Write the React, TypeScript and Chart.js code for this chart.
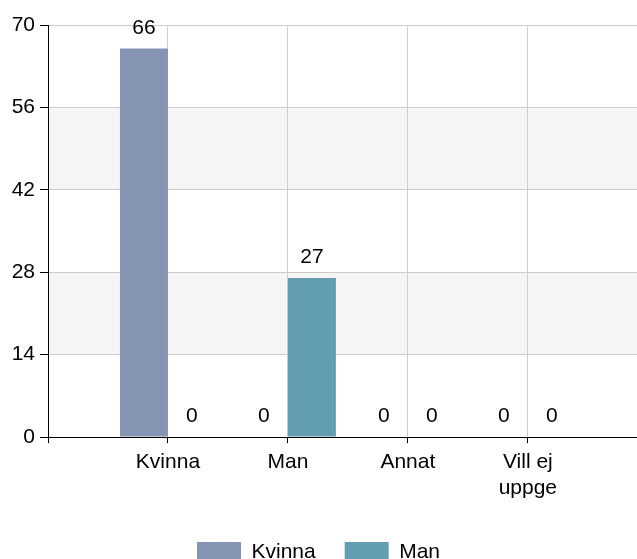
import React, { useEffect, useRef } from 'react';
import { Chart, registerables } from 'chart.js';

Chart.register(...registerables);

const CATEGORIES: (string | string[])[] = ['Kvinna', 'Man', 'Annat', ['Vill ej', 'uppge']];
const SERIES_NAMES = ['Kvinna', 'Man'];
const KVINNA_VALUES = [66, 0, 0, 0];
const MAN_VALUES = [0, 27, 0, 0];
const Y_MIN = 0;
const Y_MAX = 70;
const Y_STEP = 14;
const BANDS: [number, number][] = [[14, 28], [42, 56]];
const COLORS = ['#8594B3', '#629DB2'];

const FONT = { family: '"Liberation Sans", Arial, sans-serif', size: 21 };

const bandPlugin = {
  id: 'bands',
  beforeDraw(chart: any) {
    const { ctx, chartArea, scales } = chart;
    ctx.save();
    ctx.fillStyle = '#f5f5f5';
    BANDS.forEach(([a, b]) => {
      const y1 = scales.y.getPixelForValue(b);
      const y2 = scales.y.getPixelForValue(a);
      ctx.fillRect(chartArea.left, y1, chartArea.right - chartArea.left, y2 - y1);
    });
    ctx.restore();
  },
};

const valueLabelPlugin = {
  id: 'valueLabels',
  afterDatasetsDraw(chart: any) {
    const { ctx } = chart;
    ctx.save();
    ctx.font = `${FONT.size}px ${FONT.family}`;
    ctx.fillStyle = '#000';
    ctx.textAlign = 'center';
    ctx.textBaseline = 'alphabetic';
    chart.data.datasets.forEach((ds: any, di: number) => {
      const meta = chart.getDatasetMeta(di);
      meta.data.forEach((el: any, i: number) => {
        const v = ds.data[i].y;
        ctx.fillText(String(v), el.x, el.y - 15);
      });
    });
    ctx.restore();
  },
};

export default function App() {
  const ref = useRef<HTMLCanvasElement>(null);

  useEffect(() => {
    if (!ref.current) return;
    const chart = new Chart(ref.current, {
      type: 'bar',
      data: {
        datasets: [
          {
            label: SERIES_NAMES[0],
            data: KVINNA_VALUES.map((v, i) => ({ x: i + 1, y: v })),
            backgroundColor: COLORS[0],
            borderWidth: 0,
            categoryPercentage: 0.8,
            barPercentage: 1,
          },
          {
            label: SERIES_NAMES[1],
            data: MAN_VALUES.map((v, i) => ({ x: i + 1, y: v })),
            backgroundColor: COLORS[1],
            borderWidth: 0,
            categoryPercentage: 0.8,
            barPercentage: 1,
          },
        ],
      },
      options: {
        responsive: false,
        maintainAspectRatio: false,
        animation: false,
        layout: { padding: { top: 25, left: 0, right: 0, bottom: 0 } },
        scales: {
          x: {
            type: 'linear',
            offset: false,
            min: 0,
            max: 4.91,
            afterBuildTicks: (s: any) => {
              s.ticks = [0, 1, 2, 3, 4].map((v) => ({ value: v }));
            },
            ticks: {
              font: FONT,
              color: '#000',
              padding: 7,
              maxRotation: 0,
              autoSkip: false,
              callback: (v: any) => (v >= 1 ? CATEGORIES[v - 1] : ''),
            },
            grid: { offset: false, color: '#cfcfcf', tickColor: '#000', tickLength: 6 },
            border: { color: '#000', width: 1 },
            afterFit: (s: any) => {
              s.height = 76;
            },
          },
          y: {
            min: Y_MIN,
            max: Y_MAX,
            ticks: { stepSize: Y_STEP, font: FONT, color: '#000', padding: 5 },
            grid: { color: '#cccccc', tickColor: '#000', tickLength: 8 },
            border: { color: '#000', width: 1 },
            afterFit: (s: any) => {
              s.width = 48;
            },
          },
        },
        plugins: {
          legend: {
            position: 'bottom',
            labels: { boxWidth: 44, boxHeight: 21, padding: 29, font: FONT, color: '#000' },
          },
          tooltip: { enabled: false },
        },
      } as any,
      plugins: [bandPlugin, valueLabelPlugin],
    });
    return () => chart.destroy();
  }, []);

  return (
    <div style={{ position: 'fixed', left: 0, top: 0, width: 637, height: 559, overflow: 'hidden', background: '#fff' }}>
      <canvas ref={ref} width={637} height={573} style={{ display: 'block' }} />
    </div>
  );
}
